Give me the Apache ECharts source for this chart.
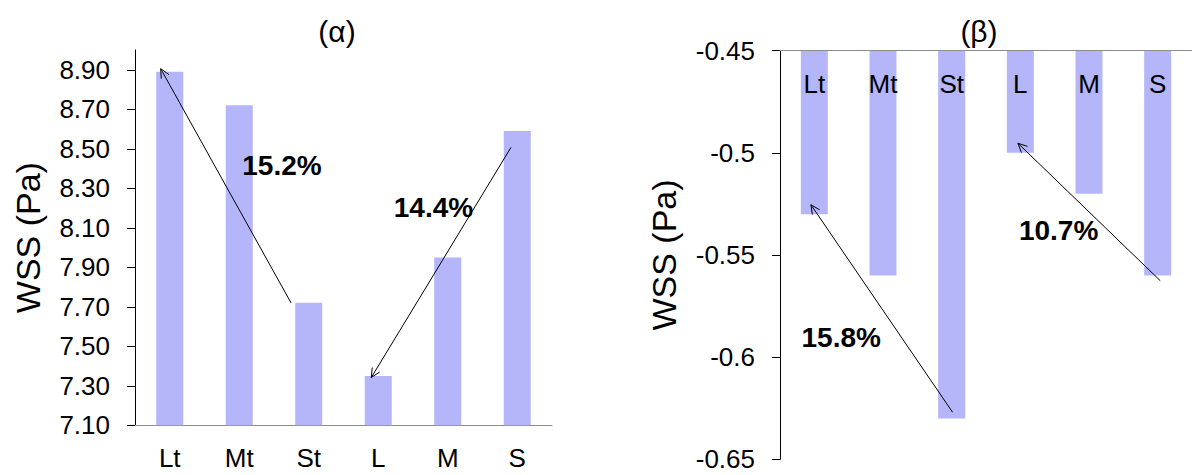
<!DOCTYPE html>
<html>
<head>
<meta charset="utf-8">
<title>WSS (α) / (β)</title>
<script src="https://cdn.jsdelivr.net/npm/echarts@6/dist/echarts.min.js"></script>
<style>
  html, body { margin: 0; padding: 0; background: #fff; }
  #chart { width: 1192px; height: 475px; }
</style>
</head>
<body>
<div id="chart"></div>
<script>
// ---- data ----
const categories = ['Lt', 'Mt', 'St', 'L', 'M', 'S'];
const wssAlpha = [8.89, 8.72, 7.72, 7.35, 7.95, 8.59];
const wssBeta = [-0.53, -0.56, -0.63, -0.50, -0.52, -0.56];
const alphaTicks = [7.10, 7.30, 7.50, 7.70, 7.90, 8.10, 8.30, 8.50, 8.70, 8.90];
const betaTicks = [-0.65, -0.6, -0.55, -0.5, -0.45];
const alphaArrows = [['St', 'Lt'], ['S', 'L']];
const betaArrows = [['St', 'Lt'], ['S', 'L']];
const alphaChanges = ['15.2%', '14.4%'];
const betaChanges = ['15.8%', '10.7%'];

// ---- layout / style ----
const FONT = '"Liberation Sans", Arial, sans-serif';
const BAR_COLOR = '#b4b6f9';
// arrow end offsets: [category offset, value offset] relative to the bar top
const alphaArrowGeom = [
  { tail: [-0.255, 0.0], head: [-0.13, 0.015] },
  { tail: [-0.09, -0.083], head: [-0.10, -0.008] }
];
const betaArrowGeom = [
  { tail: [0.014, 0.003], head: [-0.05, 0.0046] },
  { tail: [0.038, -0.0026], head: [-0.035, 0.0047] }
];
// change label anchor points in (category position, value)
const alphaLabelPos = [[1.615, 8.416], [3.795, 8.204]];
const betaLabelPos = [[0.392, -0.5905], [3.558, -0.5382]];

function arrowData(pairs, geom, values) {
  return pairs.map(function (p, i) {
    const t = categories.indexOf(p[0]);
    const h = categories.indexOf(p[1]);
    return [
      t + geom[i].tail[0], values[t] + geom[i].tail[1],
      h + geom[i].head[0], values[h] + geom[i].head[1]
    ];
  });
}

function renderArrow(params, api) {
  const a = api.coord([api.value(0), api.value(1)]);
  const b = api.coord([api.value(2), api.value(3)]);
  const ang = Math.atan2(a[1] - b[1], a[0] - b[0]);
  const len = 10, spread = 0.45;
  const w1 = [b[0] + len * Math.cos(ang + spread), b[1] + len * Math.sin(ang + spread)];
  const w2 = [b[0] + len * Math.cos(ang - spread), b[1] + len * Math.sin(ang - spread)];
  const st = { stroke: '#000', lineWidth: 1, fill: null };
  return {
    type: 'group',
    children: [
      { type: 'line', shape: { x1: a[0], y1: a[1], x2: b[0], y2: b[1] }, style: st },
      { type: 'polyline', shape: { points: [w1, b, w2] }, style: st }
    ]
  };
}

function labelRenderer(texts) {
  return function (params, api) {
    const p = api.coord([api.value(0), api.value(1)]);
    return {
      type: 'text',
      x: p[0], y: p[1],
      style: {
        text: texts[params.dataIndex],
        font: 'bold 28px ' + FONT,
        fill: '#000',
        align: 'center',
        verticalAlign: 'middle'
      }
    };
  };
}

const chart = echarts.init(document.getElementById('chart'), null, { renderer: 'svg' });

const yAxisBase = {
  type: 'value',
  splitLine: { show: false },
  axisLine: { show: true, onZero: false, lineStyle: { color: '#000', width: 1 } },
  axisTick: { show: true, length: 8, lineStyle: { color: '#000' } },
  axisLabel: { color: '#000', fontSize: 26, fontFamily: FONT, margin: 25 },
  nameLocation: 'middle',
  nameTextStyle: { color: '#000', fontSize: 34, fontFamily: FONT }
};

const titleStyle = { fontSize: 30, fontWeight: 'normal', color: '#000', fontFamily: FONT };

const option = {
  backgroundColor: '#fff',
  animation: false,
  title: [
    { text: '(α)', left: 332, top: 11, textAlign: 'center', textStyle: titleStyle },
    { text: '(β)', left: 974, top: 11, textAlign: 'center', textStyle: titleStyle }
  ],
  grid: [
    { left: 135, top: 50, width: 417, height: 375.3 },
    { left: 780, top: 50.7, width: 417, height: 408.6 }
  ],
  xAxis: [
    { type: 'category', gridIndex: 0, data: categories,
      axisLine: { onZero: false, lineStyle: { color: '#8c8c8c', width: 1 } },
      axisTick: { show: false },
      axisLabel: { color: '#000', fontSize: 26, fontFamily: FONT, margin: 20 } },
    { type: 'value', gridIndex: 0, min: -0.5, max: 5.5, show: false },
    { type: 'category', gridIndex: 1, data: categories, position: 'top', z: 4,
      axisLine: { onZero: false, lineStyle: { color: '#8c8c8c', width: 1 } },
      axisTick: { show: false },
      axisLabel: { inside: true, color: '#000', fontSize: 26, fontFamily: FONT, margin: 20 } },
    { type: 'value', gridIndex: 1, min: -0.5, max: 5.5, show: false }
  ],
  yAxis: [
    Object.assign({}, yAxisBase, {
      gridIndex: 0, min: 7.1, max: 9.0,
      name: 'WSS (Pa)', nameGap: 90,
      axisTick: Object.assign({}, yAxisBase.axisTick, { customValues: alphaTicks }),
      axisLabel: Object.assign({}, yAxisBase.axisLabel, {
        customValues: alphaTicks,
        formatter: function (v) { return v.toFixed(2); }
      })
    }),
    Object.assign({}, yAxisBase, {
      gridIndex: 1, min: -0.65, max: -0.45,
      name: 'WSS (Pa)', nameGap: 99,
      axisTick: Object.assign({}, yAxisBase.axisTick, { customValues: betaTicks }),
      axisLabel: Object.assign({}, yAxisBase.axisLabel, {
        customValues: betaTicks,
        formatter: function (v) { return String(+v.toFixed(2)); }
      })
    })
  ],
  series: [
    { type: 'bar', xAxisIndex: 0, yAxisIndex: 0, data: wssAlpha, barWidth: 27, clip: true,
      itemStyle: { color: BAR_COLOR } },
    { type: 'bar', xAxisIndex: 2, yAxisIndex: 1, data: wssBeta, barWidth: 27, clip: true,
      itemStyle: { color: BAR_COLOR } },
    { type: 'custom', xAxisIndex: 1, yAxisIndex: 0, clip: false, z: 5,
      encode: { x: [0, 2], y: [1, 3] },
      data: arrowData(alphaArrows, alphaArrowGeom, wssAlpha), renderItem: renderArrow },
    { type: 'custom', xAxisIndex: 3, yAxisIndex: 1, clip: false, z: 5,
      encode: { x: [0, 2], y: [1, 3] },
      data: arrowData(betaArrows, betaArrowGeom, wssBeta), renderItem: renderArrow },
    { type: 'custom', xAxisIndex: 1, yAxisIndex: 0, clip: false, z: 6,
      data: alphaLabelPos, renderItem: labelRenderer(alphaChanges) },
    { type: 'custom', xAxisIndex: 3, yAxisIndex: 1, clip: false, z: 6,
      data: betaLabelPos, renderItem: labelRenderer(betaChanges) }
  ]
};

chart.setOption(option);
</script>
</body>
</html>
